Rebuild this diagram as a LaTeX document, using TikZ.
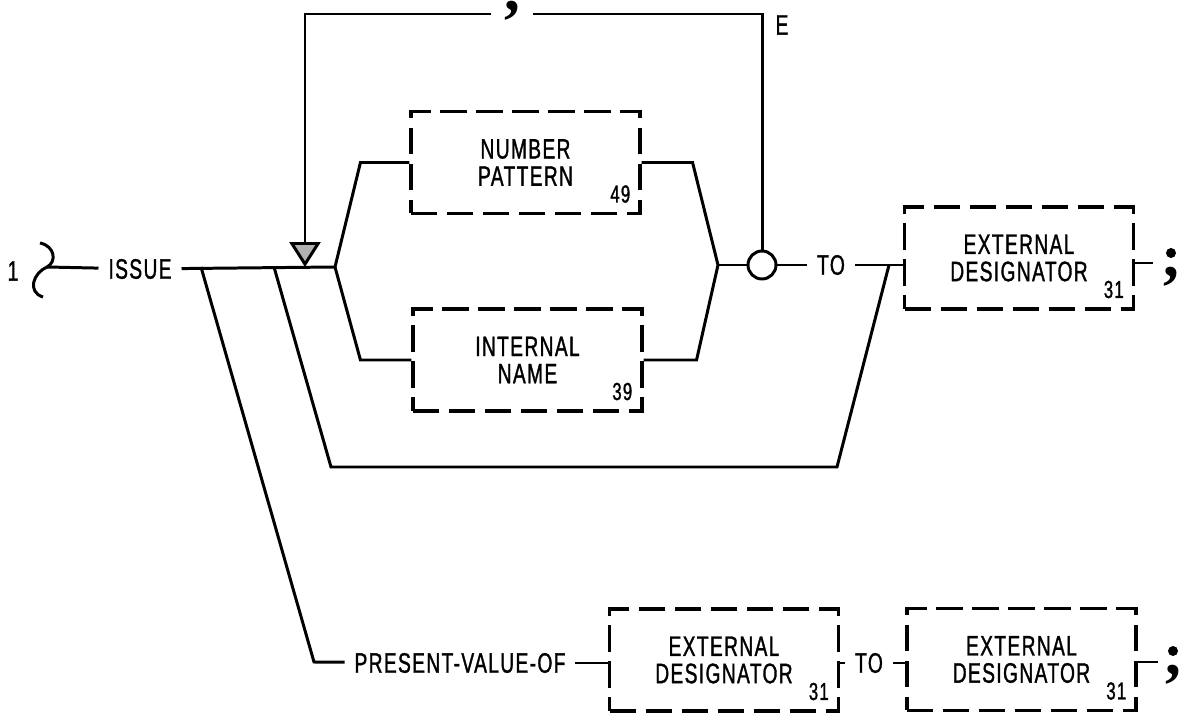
\documentclass[tikz,border=0pt]{standalone}
\usepackage{fontspec}
\setmainfont{Liberation Sans}[FakeStretch=0.68,LetterSpace=5,FakeBold=1.2]
\newfontfamily\markfont{Liberation Serif}
\usetikzlibrary{positioning,arrows.meta}

\begin{document}
\begin{tikzpicture}[x=0.02cm, y=-0.02cm,
  every node/.style={font=\fontsize{16}{15.5}\selectfont, inner sep=0pt},
  conn/.style={line width=1.7pt},
  lbl/.style={inner xsep=5.5pt},
  dbox/.style={draw, dash pattern=on 15pt off 5.5pt, line width=1.8pt,
    minimum width=4.58cm, minimum height=2.04cm, align=center},
  num/.style={font=\fontsize{14}{15}\selectfont, anchor=south east, xshift=-0.22cm, yshift=0.24cm},
  stop/.style={font=\markfont\bfseries\fontsize{36}{36}\selectfont, inner xsep=7pt,
    text height=4pt, text depth=8pt},
  dotmark/.style={circle, fill, minimum size=0.2cm}]
  \useasboundingbox (0,0) rectangle (1187,719);

  % start of the syntax line
  \node (one) at (13,271) {1};
  \coordinate (hook) at (47,267);
  \draw[conn] (40,243) .. controls (55,246) and (57,262) .. (hook)
              .. controls (33,273) and (27,292) .. (43,297);
  \node[lbl] (issue) at (140,269) {ISSUE};
  \draw[conn] (hook) -- (issue);

  % boxes
  \node[dbox] (np) at (525.5,162.5) {NUMBER\\PATTERN};
  \node[dbox] (in) at (527.5,360) {INTERNAL\\NAME};
  \node[dbox] (ed1) at (1019,258) {EXTERNAL\\DESIGNATOR};
  \node[dbox] (ed2) at (724,660) {EXTERNAL\\DESIGNATOR};
  \node[dbox] (ed3) at (1021.5,659.5) {EXTERNAL\\DESIGNATOR};
  \node[num] (n49) at (np.south east) {49};
  \node[num] (n39) at (in.south east) {39};
  \node[num] (n31a) at (ed1.south east) {31};
  \node[num] (n31b) at (ed2.south east) {31};
  \node[num] (n31c) at (ed3.south east) {31};

  % branch points
  \coordinate (b1) at (201,267);
  \coordinate (b2) at (274,267);
  \coordinate (tip) at (305,267);
  \coordinate (j1) at (335,267);
  \coordinate (j2) at (718,265);
  \coordinate (j3) at (889,265);
  \coordinate (b2low) at (331,467);
  \coordinate (j3low) at (837,467);
  \coordinate (b1low) at (314,662);

  \node[draw, circle, line width=1.7pt, minimum size=0.56cm] (ring) at (762,265) {};
  \node[lbl] (to1) at (831,265) {TO};
  \node[stop] (cm) at (512,14) {,};
  \node (elab) at (782,25) {E};
  \node[lbl] (pv) at (460,663) {PRESENT-VALUE-OF};
  \node[lbl] (to2) at (869,663) {TO};

  % end marks
  \coordinate (e1) at (1153,263);
  \coordinate (e2) at (1158,662);
  \node[dotmark] (d1) at (1171,253) {};
  \node[stop] (c1) at (1171,280) {,};
  \node[dotmark] (d2) at (1173,651) {};
  \node[stop] (c2) at (1173,678) {,};

  % connectors
  \draw[conn] (issue) -- (j1);
  \draw[conn] (j1) -- ([xshift=-0.98cm]np.west) -- (np.west);
  \draw[conn] (j1) -- ([xshift=-1.02cm]in.west) -- (in.west);
  \draw[conn] (np.east) -- ([xshift=1.02cm]np.east) -- (j2);
  \draw[conn] (in.east) -- ([xshift=1.06cm]in.east) -- (j2);
  \draw[conn] (j2) -- (ring);
  \draw[conn] (ring) -- (to1);
  \draw[conn] (to1) -- (to1 -| ed1.west);
  \draw[conn] (b2) -- (b2low) -- (j3low) -- (j3);
  \draw[conn] (ring) |- (cm);
  \draw[conn, -{Triangle[length=0.5cm, width=0.62cm, fill=gray!60]}] (cm) -| (tip);
  \draw[conn] (ed1.east |- e1) -- (e1);
  \draw[conn] (b1) -- (b1low) -- (pv);
  \draw[conn] (pv) -- (pv -| ed2.west);
  \draw[conn] (ed2.east |- to2) -- (to2);
  \draw[conn] (to2) -- (to2 -| ed3.west);
  \draw[conn] (ed3.east |- e2) -- (e2);
\end{tikzpicture}
\end{document}
